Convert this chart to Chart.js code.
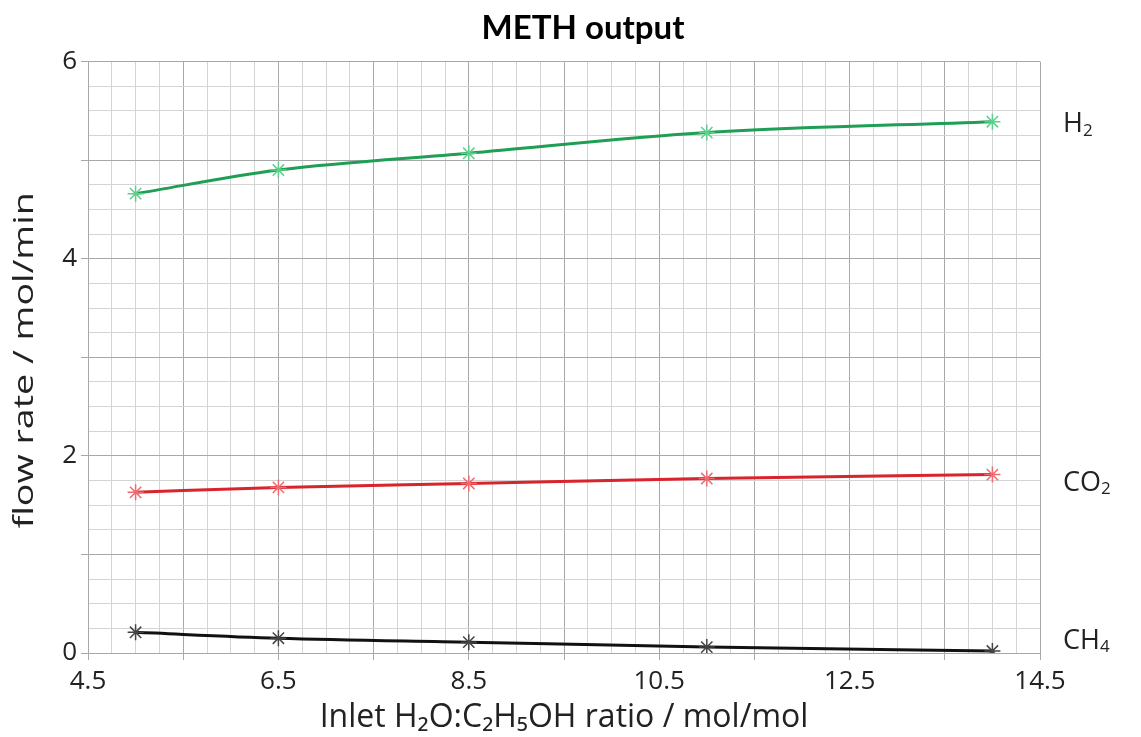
<!DOCTYPE html>
<html>
<head>
<meta charset="utf-8">
<script src="https://cdn.jsdelivr.net/npm/chart.js@4.4.0/dist/chart.umd.min.js"></script>
<style>
  body { margin: 0; background: #fff; }
  #wrap { width: 1141px; height: 737px; }
</style>
</head>
<body>
<div id="wrap"><canvas id="methChart" width="1141" height="737"></canvas></div>
<script>
// ratio values (x) and flow rates
const ratios = [5, 6.5, 8.5, 11, 14];
const h2Flow = [4.66, 4.90, 5.07, 5.28, 5.39];
const co2Flow = [1.63, 1.68, 1.72, 1.77, 1.81];
const ch4Flow = [0.21, 0.15, 0.11, 0.06, 0.02];

const xLabels = [4.5, 6.5, 8.5, 10.5, 12.5, 14.5];
const yLabels = [0, 2, 4, 6];

const seriesNames = [["H", "2"], ["CO", "2"], ["CH", "4"]];
const chartTitle = 'METH output';
const yTitle = 'flow rate / mol/min';

const toPoints = ys => ratios.map((x, i) => ({ x, y: ys[i] }));
const fontFam = "'Open Sans', 'DejaVu Sans', sans-serif";

function makeSet(label, data, color, pointColor) {
  return {
    label, data: toPoints(data),
    borderColor: color, borderWidth: 3,
    pointStyle: 'star', pointRadius: 8, pointBorderWidth: 1.5,
    pointBorderColor: pointColor, pointBackgroundColor: pointColor,
    cubicInterpolationMode: 'monotone', fill: false
  };
}

// series names next to the line ends, the title and the stretched y title
const extraText = {
  id: 'extraText',
  afterDraw(chart) {
    const ctx = chart.ctx;
    const area = chart.chartArea;
    const xPix = area.right + 23;
    const nudge = [3, 9, -10];
    chart.data.datasets.forEach((ds, i) => {
      const last = chart.getDatasetMeta(i).data[ds.data.length - 1];
      const [main, sub] = seriesNames[i];
      const y = last.y + nudge[i];
      ctx.save();
      ctx.fillStyle = '#222';
      ctx.textBaseline = 'middle';
      ctx.font = "27px " + fontFam;
      ctx.fillText(main, xPix, y);
      const w = ctx.measureText(main).width;
      ctx.font = "17px " + fontFam;
      ctx.fillText(sub, xPix + w, y + 6);
      ctx.restore();
    });

    ctx.save();
    ctx.fillStyle = '#000';
    ctx.font = "bold 33px Lato, 'Open Sans', sans-serif";
    ctx.textAlign = 'center';
    ctx.textBaseline = 'middle';
    ctx.fillText(chartTitle, (area.left + area.right) / 2 + 19, 28);
    ctx.restore();

    ctx.save();
    ctx.fillStyle = '#222';
    ctx.font = "28px " + fontFam;
    ctx.textAlign = 'center';
    ctx.textBaseline = 'middle';
    const w = ctx.measureText(yTitle).width;
    ctx.translate(25, (area.top + area.bottom) / 2 + 3);
    ctx.rotate(-Math.PI / 2);
    ctx.scale(336 / w, 1);
    ctx.fillText(yTitle, 0, 0);
    ctx.restore();
  }
};

const near = (a, b) => Math.abs(a - b) < 1e-6;
const frac = v => ((v % 1) + 1) % 1;
const xMajor = v => near(frac(v - 4.5), 0) || near(frac(v - 4.5), 1);
const yMajor = v => near(frac(v), 0) || near(frac(v), 1);

new Chart(document.getElementById('methChart'), {
  type: 'line',
  data: {
    datasets: [
      makeSet("H2", h2Flow, "#1f9e55", "#5ccf8a"),
      makeSet("CO2", co2Flow, "#d8242c", "#ee6a70"),
      makeSet("CH4", ch4Flow, "#111111", "#444444")
    ]
  },
  options: {
    responsive: false,
    animation: false,
    layout: { padding: { left: 0, right: 101, top: 0, bottom: 0 } },
    plugins: {
      legend: { display: false },
      tooltip: { enabled: false },
      title: {
        // only reserves the space; the text is drawn by extraText
        display: true, text: chartTitle, color: 'rgba(0,0,0,0)',
        font: { family: "Lato, 'Open Sans', sans-serif", size: 33, weight: 'bold' },
        padding: { top: 6, bottom: 16 }
      }
    },
    scales: {
      x: {
        type: 'linear', min: 4.5, max: 14.5,
        border: { color: '#a8a8a8' },
        afterFit: s => { s.height = 84; },
        ticks: {
          stepSize: 0.25, autoSkip: false, maxRotation: 0,
          color: '#222', font: { family: fontFam, size: 26 }, padding: 6,
          callback: v => xLabels.some(l => near(l, v)) ? v.toFixed(1) : ''
        },
        grid: {
          color: c => xMajor(c.tick.value) ? '#a8a8a8' : '#d4d4d4',
          tickColor: c => xMajor(c.tick.value) ? '#a8a8a8' : 'rgba(0,0,0,0)',
          tickLength: 7
        },
        title: {
          display: true, text: 'Inlet H₂O:C₂H₅OH ratio / mol/mol', color: '#222',
          font: { family: fontFam, size: 32 }, padding: { top: -10, bottom: 0 }
        }
      },
      y: {
        min: 0, max: 6,
        border: { color: '#a8a8a8' },
        afterFit: s => { s.width = 88; },
        ticks: {
          stepSize: 0.25, autoSkip: false,
          color: '#222', font: { family: fontFam, size: 26 }, padding: 4,
          callback: v => yLabels.some(l => near(l, v)) ? String(v) : ''
        },
        grid: {
          color: c => yMajor(c.tick.value) ? '#a8a8a8' : '#d4d4d4',
          tickColor: c => yMajor(c.tick.value) ? '#a8a8a8' : 'rgba(0,0,0,0)',
          tickLength: 7
        }
      }
    }
  },
  plugins: [extraText]
});
</script>
</body>
</html>
